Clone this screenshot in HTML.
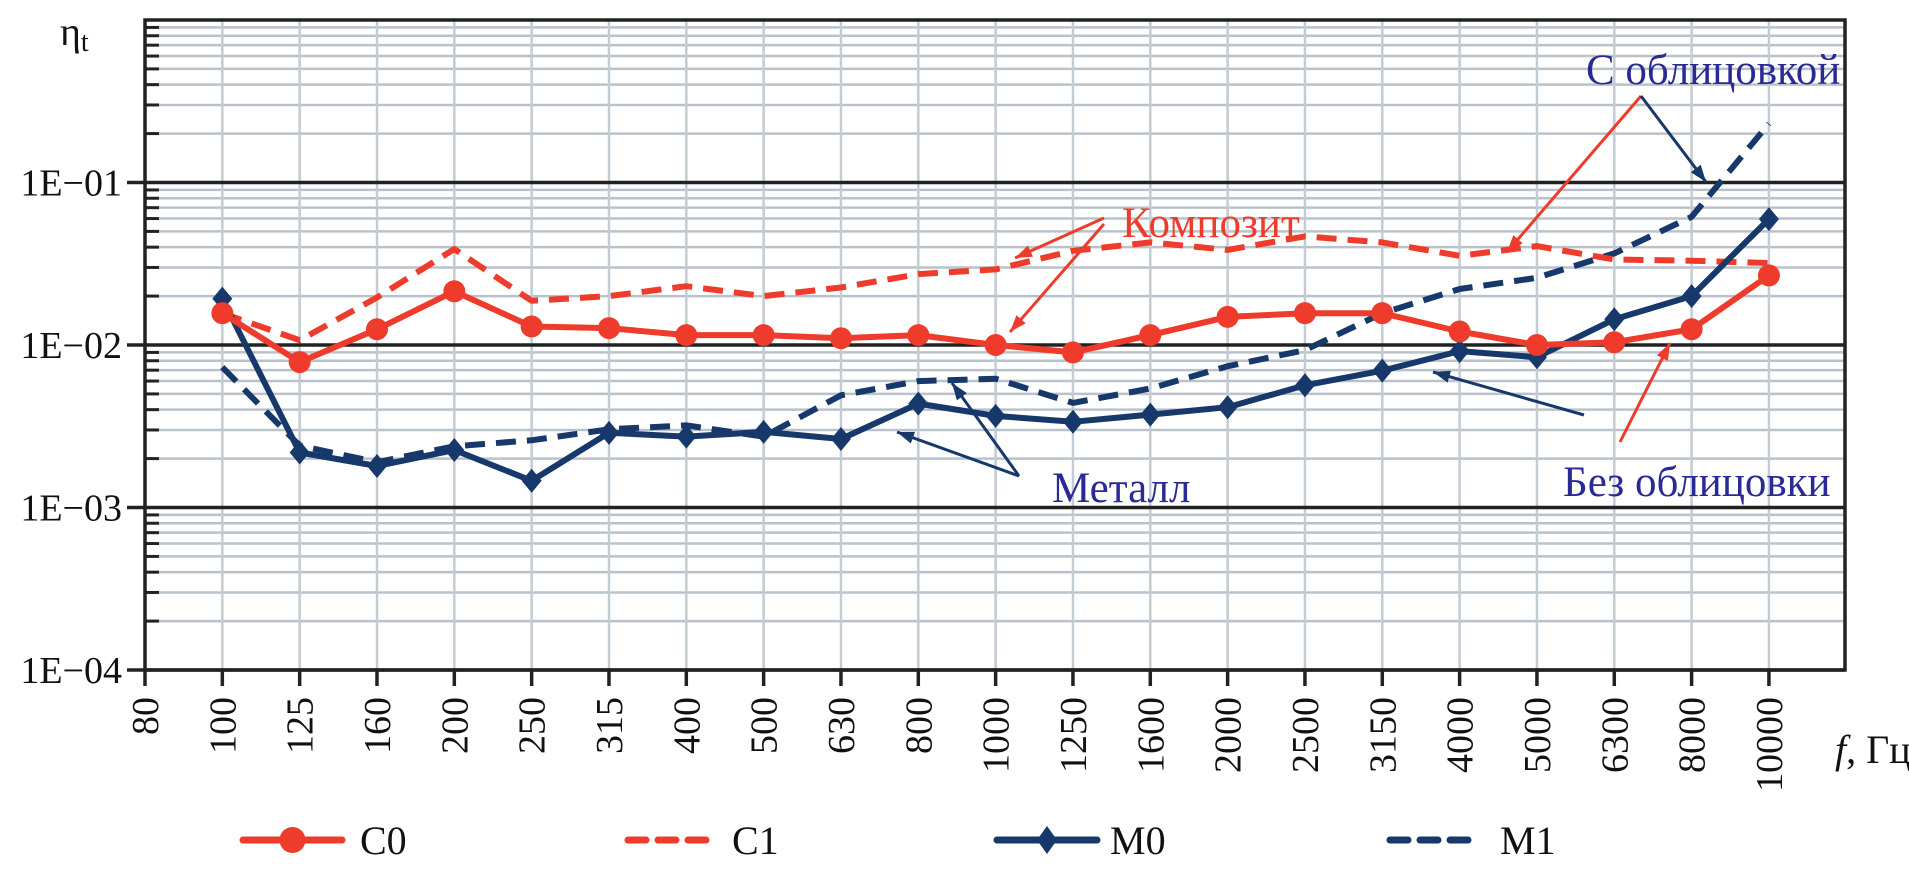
<!DOCTYPE html>
<html><head><meta charset="utf-8">
<style>
html,body{margin:0;padding:0;background:#fff;}
svg{display:block;font-family:"Liberation Serif",serif;}
</style></head>
<body>
<svg id="chart" width="1909" height="874" viewBox="0 0 1909 874" xmlns="http://www.w3.org/2000/svg"></svg>
<script>
const categories = ["80","100","125","160","200","250","315","400","500","630","800","1000","1250","1600","2000","2500","3150","4000","5000","6300","8000","10000"];
const yTickLabels = ["1E\u221201","1E\u221202","1E\u221203","1E\u221204"];
const yTickValues = [1e-1,1e-2,1e-3,1e-4];
const seriesC0 = [null,0.0157,0.00785,0.0125,0.0214,0.013,0.0127,0.0115,0.0115,0.011,0.0115,0.010,0.0090,0.0115,0.0149,0.0157,0.0157,0.0121,0.0100,0.0104,0.0125,0.0268];
const seriesC1 = [null,0.0157,0.0107,0.0196,0.039,0.0187,0.020,0.023,0.020,0.0226,0.0273,0.0292,0.038,0.0428,0.0385,0.0466,0.0428,0.0354,0.0406,0.0336,0.033,0.0319];
const seriesM0 = [null,0.0193,0.00218,0.0018,0.00226,0.00146,0.00288,0.00273,0.00292,0.00264,0.00436,0.00366,0.00337,0.00373,0.00414,0.00565,0.00695,0.00917,0.00841,0.0144,0.020,0.0595];
const seriesM1 = [null,0.0073,0.0024,0.0019,0.00238,0.00259,0.00303,0.0032,0.00273,0.0049,0.0060,0.0062,0.0044,0.0054,0.0074,0.0093,0.0157,0.0221,0.0259,0.0366,0.0615,0.23];

const NS="http://www.w3.org/2000/svg";
const svg=document.getElementById('chart');
const L=145,R=1845,T=20,B=670,STEP=77.33;
const DEC=(B-T)/4;
function xPos(i){return L+STEP*i;}
function yPos(v){return T+(0-Math.log10(v))*DEC;}
function mk(tag,attrs,parent){const e=document.createElementNS(NS,tag);for(const k in attrs)e.setAttribute(k,attrs[k]);(parent||svg).appendChild(e);return e;}

const grid=mk('g',{});


for(let d=0;d<4;d++){for(let m=2;m<=9;m++){const v=Math.pow(10,-d-1)*m;const y=yPos(v);
 mk('line',{x1:L,x2:R,y1:y,y2:y,stroke:'#b9c2cb','stroke-width':2.5},grid);
 mk('line',{x1:L,x2:L+14,y1:y,y2:y,stroke:'#222','stroke-width':3},grid);}}
categories.forEach((c,i)=>{if(i===0)return;const x=xPos(i);mk('line',{x1:x,x2:x,y1:T,y2:B,stroke:'#c3cbd3','stroke-width':2.5},grid);});
yTickValues.forEach((v,i)=>{const y=yPos(v);mk('line',{x1:L-18,x2:R,y1:y,y2:y,stroke:'#222','stroke-width':3.5},grid);});
mk('rect',{x:L,y:T,width:R-L,height:B-T,fill:'none',stroke:'#222','stroke-width':3.5},grid);

yTickValues.forEach((v,i)=>{const t=mk('text',{x:122,y:yPos(v)+13,'text-anchor':'end','font-size':38,fill:'#111'});
 
 
 t.textContent=yTickLabels[i];});
const yt=mk('text',{x:60,y:45,'font-size':40,fill:'#111'});


yt.innerHTML='η<tspan font-size="28" dy="6">t</tspan>';

categories.forEach((c,i)=>{const x=xPos(i);
 mk('line',{x1:x,x2:x,y1:B,y2:B+16,stroke:'#222','stroke-width':3.5});
 const t=mk('text',{x:0,y:0,'text-anchor':'end','font-size':38,fill:'#111',transform:`translate(${x+13},${B+27}) rotate(-90)`});
 
 
 t.textContent=c;});
const xt=mk('text',{x:1835,y:763,'font-size':40,fill:'#111'});


xt.innerHTML='<tspan font-style="italic">f</tspan>, Гц';

const RED='#ee3b2b',NAVY='#17386a',TXT='#2a2a96';
function path(arr){let d='';arr.forEach((v,i)=>{if(v==null)return;d+=(d?'L':'M')+xPos(i).toFixed(1)+','+yPos(v).toFixed(1);});return d;}
function series(arr,color,dash,marker,name){
 const g=mk('g',{});
 
 
 mk('path',{d:path(arr),fill:'none',stroke:color,'stroke-width':6,'stroke-linejoin':'round','stroke-dasharray':dash||'none'},g);
 arr.forEach((v,i)=>{if(v==null||!marker)return;const x=xPos(i),y=yPos(v);
  let m;
  if(marker==='circle'){m=mk('circle',{cx:x,cy:y,r:11,fill:color},g);}
  else{m=mk('polygon',{points:`${x},${y-12} ${x+10},${y} ${x},${y+12} ${x-10},${y}`,fill:color},g);}
  
  
 });
}
series(seriesM1,NAVY,'20,11',null,'series-m1');
series(seriesC1,RED,'20,11',null,'series-c1');
series(seriesM0,NAVY,null,'diamond','series-m0');
series(seriesC0,RED,null,'circle','series-c0');

function arrow(x1,y1,x2,y2,color){const g=mk('g',{});
 
 
 mk('line',{x1,y1,x2,y2,stroke:color,'stroke-width':3},g);
 const a=Math.atan2(y2-y1,x2-x1),s=18;
 const p1=[x2-s*Math.cos(a-0.35),y2-s*Math.sin(a-0.35)],p2=[x2-s*Math.cos(a+0.35),y2-s*Math.sin(a+0.35)];
 mk('polygon',{points:`${x2},${y2} ${p1} ${p2}`,fill:color},g);}
function label(txt,x,y,color,name){const t=mk('text',{x,y,'font-size':43,fill:color});
 
 
 t.textContent=txt;}
label('Композит',1122,237,RED,'annotation-composite');
arrow(1104,218,1015,258,RED);
arrow(1104,224,1010,332,RED);
label('С облицовкой',1586,84,TXT,'annotation-with-lining');
arrow(1641,96,1507,252,RED);
arrow(1641,96,1706,182,NAVY);
label('Металл',1052,502,TXT,'annotation-metal');
arrow(1019,476,897,432,NAVY);
arrow(1019,476,952,383,NAVY);
label('Без облицовки',1563,496,TXT,'annotation-without-lining');
arrow(1584,415,1433,372,NAVY);
arrow(1620,442,1670,343,RED);

function legend(x1,x2,tx,color,dash,marker,txt,name){const g=mk('g',{});
 
 
 const y=840;
 mk('line',{x1,x2,y1:y,y2:y,stroke:color,'stroke-width':7,'stroke-linecap':'round','stroke-dasharray':dash||'none'},g);
 const cx=(x1+x2)/2;
 if(marker==='circle')mk('circle',{cx,cy:y,r:13,fill:color},g);
 if(marker==='diamond')mk('polygon',{points:`${cx},${y-14} ${cx+10},${y} ${cx},${y+14} ${cx-10},${y}`,fill:color},g);
 const t=mk('text',{x:tx,y:y+14,'font-size':40,fill:'#111'},g);t.textContent=txt;}
legend(243,342,360,RED,null,'circle','C0','legend-c0');
legend(628,715,732,RED,'18,12',null,'C1','legend-c1');
legend(997,1097,1110,NAVY,null,'diamond','M0','legend-m0');
legend(1390,1480,1500,NAVY,'18,12',null,'M1','legend-m1');
</script>
</body></html>
